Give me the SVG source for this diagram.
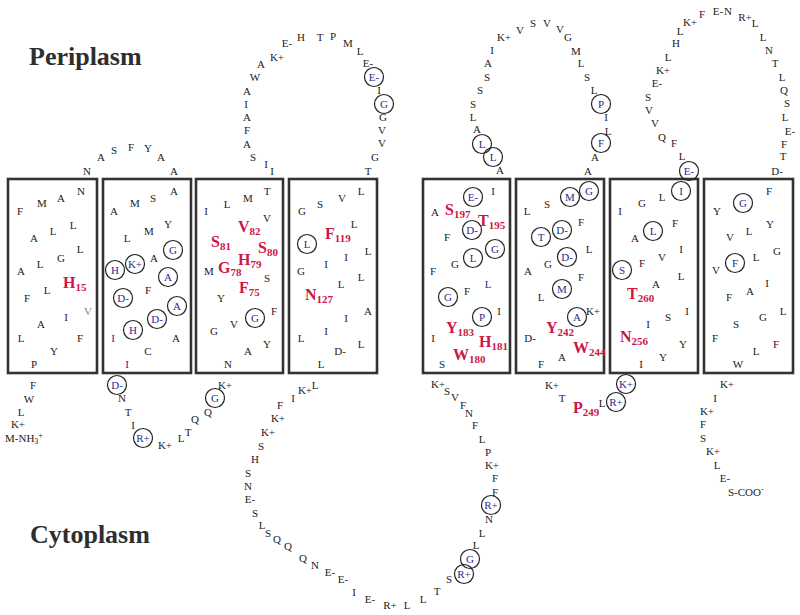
<svg xmlns="http://www.w3.org/2000/svg" width="800" height="615" viewBox="0 0 800 615">
<style>
text{font-family:"Liberation Serif","Times New Roman",serif}
.t{font-size:11px;fill:#222;text-anchor:middle}
.b{fill:#2b2b8c}
.g{fill:#888}
.c{fill:none;stroke:#222;stroke-width:1.2}
.box{fill:none;stroke:#333;stroke-width:2.6}
.r{font-size:16px;font-weight:bold;fill:#cf1447}
.r tspan{font-size:11px}
.lab{font-size:26px;font-weight:bold;fill:#2e2e2e}
</style>
<rect width="800" height="615" fill="#fff"/>
<text class="lab" x="29" y="65">Periplasm</text>
<text class="lab" x="30" y="543">Cytoplasm</text>
<g id="connectors"/>
<g id="nterm">
<text class="t" x="5" y="442" style="text-anchor:start">M-NH<tspan font-size="8" dy="2">3</tspan><tspan font-size="8" dy="-6">+</tspan></text>
<text class="t" x="18" y="428">K+</text>
<text class="t" x="21" y="416">L</text>
<text class="t" x="29" y="403">W</text>
<text class="t" x="33" y="389">F</text>
</g>
<g id="helix1">
<rect class="box" x="8" y="179" width="89" height="194"/>
<text class="t" x="20" y="215">F</text>
<text class="t" x="42" y="207">M</text>
<text class="t" x="61" y="202">A</text>
<text class="t" x="81" y="195">N</text>
<text class="t" x="34" y="242">A</text>
<text class="t" x="53" y="235">L</text>
<text class="t" x="73" y="229">L</text>
<text class="t" x="80" y="253">L</text>
<text class="t" x="61" y="262">G</text>
<text class="t" x="40" y="268">L</text>
<text class="t" x="21" y="275">A</text>
<text class="r" x="63" y="288">H<tspan dy="3">15</tspan></text>
<text class="t" x="27" y="302">F</text>
<text class="t" x="47" y="294">L</text>
<text class="t g" x="88" y="315">V</text>
<text class="t" x="66" y="321">I</text>
<text class="t" x="41" y="328">A</text>
<text class="t" x="21" y="342">L</text>
<text class="t" x="80" y="342">F</text>
<text class="t" x="54" y="355">Y</text>
<text class="t" x="34" y="368">P</text>
</g>
<g id="loop-p1">
<text class="t" x="87" y="175">N</text>
<text class="t" x="101" y="161">A</text>
<text class="t" x="114" y="154">S</text>
<text class="t" x="131" y="151">F</text>
<text class="t" x="148" y="152">Y</text>
<text class="t" x="161" y="161">A</text>
<text class="t" x="174" y="175">A</text>
</g>
<g id="helix2">
<rect class="box" x="103" y="179" width="88" height="194"/>
<text class="t" x="174" y="195">A</text>
<text class="t" x="153" y="202">S</text>
<text class="t" x="135" y="207">M</text>
<text class="t" x="114" y="215">A</text>
<text class="t" x="168" y="228">Y</text>
<text class="t" x="149" y="235">M</text>
<text class="t" x="127" y="242">L</text>
<circle class="c" cx="173" cy="250" r="9.5"/><text class="t b" x="173" y="254">G</text>
<circle class="c" cx="135" cy="264" r="9.5"/><text class="t b" x="135" y="268">K+</text>
<text class="t" x="154" y="262">A</text>
<circle class="c" cx="115" cy="270" r="9.5"/><text class="t b" x="115" y="274">H</text>
<circle class="c" cx="168" cy="277" r="9.5"/><text class="t b" x="168" y="281">A</text>
<circle class="c" cx="123" cy="298" r="9.5"/><text class="t b" x="123" y="302">D-</text>
<text class="t" x="148" y="294">F</text>
<circle class="c" cx="177" cy="306" r="9.5"/><text class="t b" x="177" y="310">A</text>
<circle class="c" cx="157" cy="319" r="9.5"/><text class="t b" x="157" y="323">D-</text>
<circle class="c" cx="133" cy="330" r="9.5"/><text class="t b" x="133" y="334">H</text>
<text class="t b" x="113" y="342">I</text>
<text class="t" x="176" y="342">A</text>
<text class="t" x="148" y="355">C</text>
<text class="t b" x="127" y="368">I</text>
</g>
<g id="loop-c1">
<circle class="c" cx="117" cy="385" r="9.5"/><text class="t b" x="117" y="389">D-</text>
<text class="t" x="122" y="402">N</text>
<text class="t" x="128" y="416">T</text>
<text class="t" x="133" y="429">I</text>
<circle class="c" cx="143" cy="438" r="9.5"/><text class="t b" x="143" y="442">R+</text>
<text class="t" x="165" y="449">K+</text>
<text class="t" x="181" y="442">L</text>
<text class="t" x="188" y="436">T</text>
<text class="t" x="195" y="423">Q</text>
<text class="t" x="208" y="416">Q</text>
<circle class="c" cx="215" cy="398" r="9.5"/><text class="t b" x="215" y="402">G</text>
<text class="t" x="225" y="389">K+</text>
</g>
<g id="helix3">
<rect class="box" x="196" y="179" width="87" height="194"/>
<text class="t" x="267" y="195">T</text>
<text class="t" x="248" y="202">M</text>
<text class="t" x="227" y="208">L</text>
<text class="t" x="206" y="215">I</text>
<text class="t" x="267" y="222">V</text>
<text class="r" x="238" y="232">V<tspan dy="3">82</tspan></text>
<text class="r" x="211" y="247">S<tspan dy="3">81</tspan></text>
<text class="r" x="258" y="253">S<tspan dy="3">80</tspan></text>
<text class="r" x="238" y="265">H<tspan dy="3">79</tspan></text>
<text class="r" x="218" y="273">G<tspan dy="3">78</tspan></text>
<text class="t" x="209" y="275">M</text>
<text class="t" x="267" y="282">S</text>
<text class="r" x="239" y="293">F<tspan dy="3">75</tspan></text>
<text class="t" x="221" y="302">Y</text>
<circle class="c" cx="255" cy="318" r="9.5"/><text class="t b" x="255" y="322">G</text>
<text class="t" x="274" y="315">F</text>
<text class="t" x="234" y="328">V</text>
<text class="t" x="214" y="335">G</text>
<text class="t" x="267" y="348">Y</text>
<text class="t" x="248" y="355">A</text>
<text class="t" x="228" y="368">N</text>
</g>
<g id="loop-p2">
<text class="t" x="272" y="175">I</text>
<text class="t" x="266" y="168">I</text>
<text class="t" x="253" y="161">S</text>
<text class="t" x="247" y="148">A</text>
<text class="t" x="247" y="134">F</text>
<text class="t" x="247" y="121">A</text>
<text class="t" x="246" y="108">I</text>
<text class="t" x="247" y="95">A</text>
<text class="t" x="255" y="81">W</text>
<text class="t" x="261" y="68">A</text>
<text class="t" x="277" y="61">K+</text>
<text class="t" x="287" y="47">E-</text>
<text class="t" x="301" y="41">H</text>
<text class="t" x="320" y="41">T</text>
<text class="t" x="333" y="40">P</text>
<text class="t" x="348" y="47">M</text>
<text class="t" x="360" y="55">L</text>
<text class="t" x="368" y="67">E-</text>
<circle class="c" cx="374" cy="77" r="9.5"/><text class="t b" x="374" y="81">E-</text>
<text class="t" x="379" y="94">I</text>
<circle class="c" cx="384" cy="104" r="9.5"/><text class="t b" x="384" y="108">G</text>
<text class="t" x="383" y="121">G</text>
<text class="t" x="382" y="134">V</text>
<text class="t" x="382" y="147">V</text>
<text class="t" x="375" y="161">G</text>
<text class="t" x="368" y="175">T</text>
</g>
<g id="helix4">
<rect class="box" x="289" y="179" width="88" height="194"/>
<text class="t" x="302" y="215">G</text>
<text class="t" x="320" y="208">S</text>
<text class="t" x="342" y="202">V</text>
<text class="t" x="361" y="195">L</text>
<text class="t" x="354" y="228">L</text>
<text class="r" x="325" y="239">F<tspan dy="3">119</tspan></text>
<circle class="c" cx="307" cy="244" r="9.5"/><text class="t b" x="307" y="248">L</text>
<text class="t" x="368" y="255">L</text>
<text class="t" x="346" y="261">I</text>
<text class="t" x="326" y="268">I</text>
<text class="t" x="301" y="275">G</text>
<text class="t" x="361" y="281">L</text>
<text class="t" x="341" y="288">L</text>
<text class="r" x="305" y="300">N<tspan dy="3">127</tspan></text>
<text class="t" x="368" y="315">A</text>
<text class="t" x="346" y="322">I</text>
<text class="t" x="326" y="335">I</text>
<text class="t" x="301" y="342">L</text>
<text class="t" x="361" y="348">L</text>
<text class="t" x="340" y="355">D-</text>
<text class="t" x="321" y="368">L</text>
</g>
<g id="loop-c2">
<text class="t" x="315" y="389">L</text>
<text class="t" x="305" y="394">K+</text>
<text class="t" x="293" y="402">I</text>
<text class="t" x="280" y="409">F</text>
<text class="t" x="278" y="422">K+</text>
<text class="t" x="268" y="436">K+</text>
<text class="t" x="261" y="450">S</text>
<text class="t" x="255" y="463">H</text>
<text class="t" x="248" y="477">S</text>
<text class="t" x="248" y="490">N</text>
<text class="t" x="250" y="503">E-</text>
<text class="t" x="255" y="517">S</text>
<text class="t" x="262" y="529">L</text>
<text class="t" x="268" y="537">S</text>
<text class="t" x="277" y="543">Q</text>
<text class="t" x="288" y="550">Q</text>
<text class="t" x="303" y="562">Q</text>
<text class="t" x="315" y="569">N</text>
<text class="t" x="330" y="576">E-</text>
<text class="t" x="343" y="583">E-</text>
<text class="t" x="354" y="596">I</text>
<text class="t" x="370" y="603">E-</text>
<text class="t" x="390" y="609">R+</text>
<text class="t" x="407" y="609">L</text>
<text class="t" x="423" y="603">L</text>
<text class="t" x="437" y="595">T</text>
<text class="t" x="449" y="583">S</text>
<circle class="c" cx="464" cy="574" r="9.5"/><text class="t b" x="464" y="578">R+</text>
<circle class="c" cx="470" cy="559" r="9.5"/><text class="t b" x="470" y="563">G</text>
<text class="t" x="476" y="549">L</text>
<text class="t" x="482" y="537">L</text>
<text class="t" x="489" y="523">N</text>
<circle class="c" cx="491" cy="505" r="9.5"/><text class="t b" x="491" y="509">R+</text>
<text class="t" x="495" y="496">F</text>
<text class="t" x="495" y="482">F</text>
<text class="t" x="492" y="469">K+</text>
<text class="t" x="488" y="456">P</text>
<text class="t" x="482" y="443">L</text>
<text class="t" x="475" y="429">F</text>
<text class="t" x="469" y="417">N</text>
<text class="t" x="463" y="409">F</text>
<text class="t" x="455" y="401">V</text>
<text class="t" x="447" y="395">S</text>
<text class="t" x="438" y="388">K+</text>
</g>
<g id="helix5">
<rect class="box" x="423" y="179" width="87" height="194"/>
<circle class="c" cx="473" cy="197" r="9.5"/><text class="t b" x="473" y="201">E-</text>
<text class="t" x="493" y="195">I</text>
<text class="t" x="435" y="216">A</text>
<text class="r" x="445" y="215">S<tspan dy="3">197</tspan></text>
<text class="r" x="478" y="226">T<tspan dy="3">195</tspan></text>
<circle class="c" cx="472" cy="230" r="9.5"/><text class="t b" x="472" y="234">D-</text>
<text class="t" x="447" y="241">F</text>
<circle class="c" cx="495" cy="249" r="9.5"/><text class="t b" x="495" y="253">G</text>
<circle class="c" cx="473" cy="258" r="9.5"/><text class="t b" x="473" y="262">L</text>
<text class="t" x="455" y="268">G</text>
<text class="t" x="433" y="275">F</text>
<text class="t b" x="488" y="288">L</text>
<circle class="c" cx="448" cy="297" r="9.5"/><text class="t b" x="448" y="301">G</text>
<text class="t" x="467" y="295">F</text>
<circle class="c" cx="482" cy="317" r="9.5"/><text class="t b" x="482" y="321">P</text>
<text class="t" x="499" y="315">I</text>
<text class="r" x="446" y="333">Y<tspan dy="3">183</tspan></text>
<text class="t" x="433" y="342">I</text>
<text class="r" x="479" y="347">H<tspan dy="3">181</tspan></text>
<text class="r" x="453" y="360">W<tspan dy="3">180</tspan></text>
<text class="t" x="442" y="368">S</text>
</g>
<g id="loop-p3">
<text class="t" x="500" y="174">A</text>
<circle class="c" cx="493" cy="157" r="9.5"/><text class="t b" x="493" y="161">L</text>
<circle class="c" cx="482" cy="144" r="9.5"/><text class="t b" x="482" y="148">L</text>
<text class="t" x="477" y="133">A</text>
<text class="t" x="473" y="121">L</text>
<text class="t" x="473" y="108">S</text>
<text class="t" x="480" y="94">S</text>
<text class="t" x="487" y="81">S</text>
<text class="t" x="488" y="67">A</text>
<text class="t" x="492" y="54">I</text>
<text class="t" x="504" y="41">K+</text>
<text class="t" x="520" y="34">V</text>
<text class="t" x="533" y="27">S</text>
<text class="t" x="547" y="27">V</text>
<text class="t" x="560" y="33">V</text>
<text class="t" x="568" y="41">G</text>
<text class="t" x="576" y="55">M</text>
<text class="t" x="581" y="67">L</text>
<text class="t" x="587" y="81">S</text>
<text class="t" x="594" y="94">L</text>
<circle class="c" cx="601" cy="104" r="9.5"/><text class="t b" x="601" y="108">P</text>
<text class="t" x="606" y="121">I</text>
<text class="t" x="608" y="135">L</text>
<circle class="c" cx="601" cy="143" r="9.5"/><text class="t b" x="601" y="147">F</text>
<text class="t" x="595" y="161">A</text>
<text class="t" x="588" y="175">A</text>
</g>
<g id="helix6">
<rect class="box" x="516" y="179" width="88" height="194"/>
<text class="t" x="527" y="215">L</text>
<text class="t" x="547" y="208">S</text>
<circle class="c" cx="570" cy="197" r="9.5"/><text class="t b" x="570" y="201">M</text>
<circle class="c" cx="589" cy="191" r="9.5"/><text class="t b" x="589" y="195">G</text>
<text class="t" x="581" y="226">F</text>
<circle class="c" cx="541" cy="237" r="9.5"/><text class="t b" x="541" y="241">T</text>
<circle class="c" cx="562" cy="230" r="9.5"/><text class="t b" x="562" y="234">D-</text>
<text class="t" x="589" y="253">L</text>
<circle class="c" cx="567" cy="257" r="9.5"/><text class="t b" x="567" y="261">D-</text>
<text class="t" x="548" y="268">G</text>
<text class="t" x="528" y="275">A</text>
<text class="t" x="581" y="281">F</text>
<circle class="c" cx="562" cy="289" r="9.5"/><text class="t b" x="562" y="293">M</text>
<text class="t" x="541" y="301">L</text>
<circle class="c" cx="577" cy="317" r="9.5"/><text class="t b" x="577" y="321">A</text>
<text class="t" x="593" y="315">K+</text>
<text class="r" x="546" y="333">Y<tspan dy="3">242</tspan></text>
<text class="t" x="530" y="342">D-</text>
<text class="r" x="573" y="353">W<tspan dy="3">244</tspan></text>
<text class="t" x="562" y="361">A</text>
<text class="t" x="541" y="368">F</text>
</g>
<g id="loop-c3">
<text class="t" x="552" y="389">K+</text>
<text class="t" x="562" y="402">T</text>
<text class="r" x="573" y="413">P<tspan dy="3">249</tspan></text>
<text class="t" x="602" y="407">L</text>
<circle class="c" cx="616" cy="402" r="9.5"/><text class="t b" x="616" y="406">R+</text>
<circle class="c" cx="626" cy="384" r="9.5"/><text class="t b" x="626" y="388">K+</text>
</g>
<g id="helix7">
<rect class="box" x="610" y="179" width="88" height="194"/>
<circle class="c" cx="681" cy="191" r="9.5"/><text class="t b" x="681" y="195">I</text>
<text class="t" x="662" y="201">L</text>
<text class="t" x="642" y="207">G</text>
<text class="t" x="620" y="215">I</text>
<text class="t" x="675" y="227">F</text>
<circle class="c" cx="653" cy="231" r="9.5"/><text class="t b" x="653" y="235">L</text>
<text class="t" x="635" y="242">A</text>
<text class="t" x="681" y="253">I</text>
<text class="t" x="662" y="261">V</text>
<text class="t" x="642" y="267">F</text>
<circle class="c" cx="622" cy="270" r="9.5"/><text class="t b" x="622" y="274">S</text>
<text class="t" x="681" y="280">L</text>
<text class="t" x="656" y="288">A</text>
<text class="r" x="627" y="299">T<tspan dy="3">260</tspan></text>
<text class="t" x="687" y="315">I</text>
<text class="t" x="668" y="321">S</text>
<text class="t" x="648" y="328">I</text>
<text class="r" x="620" y="342">N<tspan dy="3">256</tspan></text>
<text class="t" x="683" y="348">Y</text>
<text class="t" x="663" y="361">Y</text>
<text class="t" x="641" y="368">I</text>
</g>
<g id="loop-p4">
<circle class="c" cx="689" cy="171" r="9.5"/><text class="t b" x="689" y="175">E-</text>
<text class="t" x="682" y="160">L</text>
<text class="t" x="674" y="147">F</text>
<text class="t" x="662" y="141">Q</text>
<text class="t" x="655" y="127">V</text>
<text class="t" x="649" y="114">V</text>
<text class="t" x="648" y="101">S</text>
<text class="t" x="657" y="87">E-</text>
<text class="t" x="663" y="74">K+</text>
<text class="t" x="668" y="61">L</text>
<text class="t" x="676" y="47">H</text>
<text class="t" x="680" y="35">L</text>
<text class="t" x="690" y="26">K+</text>
<text class="t" x="702" y="18">F</text>
<text class="t" x="718" y="15">E-</text>
<text class="t" x="728" y="15">N</text>
<text class="t" x="745" y="21">R+</text>
<text class="t" x="755" y="27">L</text>
<text class="t" x="763" y="41">L</text>
<text class="t" x="769" y="54">N</text>
<text class="t" x="775" y="67">T</text>
<text class="t" x="782" y="81">L</text>
<text class="t" x="784" y="94">Q</text>
<text class="t" x="787" y="107">S</text>
<text class="t" x="785" y="121">L</text>
<text class="t" x="790" y="135">E-</text>
<text class="t" x="784" y="148">F</text>
<text class="t" x="783" y="160">T</text>
<text class="t" x="777" y="175">D-</text>
</g>
<g id="helix8">
<rect class="box" x="704" y="179" width="89" height="194"/>
<text class="t" x="769" y="195">F</text>
<circle class="c" cx="743" cy="203" r="9.5"/><text class="t b" x="743" y="207">G</text>
<text class="t" x="717" y="215">Y</text>
<text class="t" x="770" y="228">Y</text>
<text class="t" x="749" y="235">L</text>
<text class="t" x="730" y="241">V</text>
<text class="t" x="777" y="255">G</text>
<text class="t" x="756" y="261">L</text>
<circle class="c" cx="735" cy="263" r="9.5"/><text class="t b" x="735" y="267">F</text>
<text class="t" x="716" y="274">V</text>
<text class="t" x="767" y="287">I</text>
<text class="t" x="750" y="295">A</text>
<text class="t" x="729" y="301">F</text>
<text class="t" x="783" y="315">L</text>
<text class="t" x="763" y="321">G</text>
<text class="t" x="736" y="328">S</text>
<text class="t" x="715" y="342">F</text>
<text class="t" x="776" y="348">F</text>
<text class="t" x="756" y="355">L</text>
<text class="t" x="738" y="368">W</text>
</g>
<g id="cterm">
<text class="t" x="727" y="388">K+</text>
<text class="t" x="715" y="402">I</text>
<text class="t" x="707" y="415">K+</text>
<text class="t" x="703" y="428">F</text>
<text class="t" x="703" y="442">S</text>
<text class="t" x="713" y="455">K+</text>
<text class="t" x="717" y="469">L</text>
<text class="t" x="725" y="482">E-</text>
<text class="t" x="728" y="496" style="text-anchor:start">S-COO<tspan font-size="8" dy="-4">-</tspan></text>
</g>
</svg>
